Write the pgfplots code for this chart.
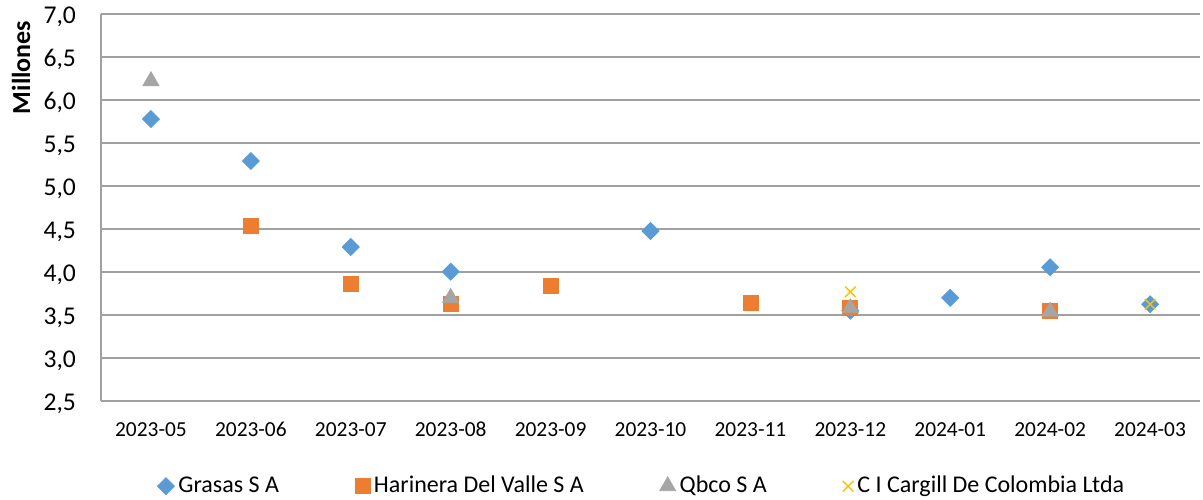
\documentclass[border=0pt]{standalone}
\usepackage{pgfplots}
\pgfplotsset{compat=1.18}
\usepackage{fontspec}
\setmainfont{Carlito}
\definecolor{cblue}{HTML}{5B9BD5}
\definecolor{corange}{HTML}{ED7D31}
\definecolor{cgray}{HTML}{A5A5A5}
\definecolor{cyellow}{HTML}{FFC000}
\definecolor{gridc}{HTML}{A0A0A0}
\begin{document}
\begin{tikzpicture}
\useasboundingbox (-50.5pt,-49pt) rectangle (551pt,200.5pt);
\begin{axis}[
  at={(0pt,0pt)}, anchor=south west,
  scale only axis,
  width=549.5pt, height=193.5pt,
  xmin=-0.5, xmax=10.5,
  ymin=2.5, ymax=7.0,
  xtick={0,...,10},
  xticklabels={2023-05,2023-06,2023-07,2023-08,2023-09,2023-10,2023-11,2023-12,2024-01,2024-02,2024-03},
  ytick={2.5,3,...,7},
  /pgf/number format/assume math mode=true,
  /pgf/number format/.cd, fixed, fixed zerofill, precision=1, use comma, /pgfplots/.cd,
  ymajorgrids, grid style={gridc, line width=0.6pt},
  axis x line*=bottom, axis y line*=left,
  axis line style={gridc, line width=0.6pt, -},
  major tick length=0pt,
  yticklabel style={font=\fontsize{12.8}{13}\selectfont, xshift=-9pt, text height=9pt, text depth=0pt},
  xticklabel style={font=\fontsize{10.7}{11}\selectfont, yshift=-6.5pt, text height=7.5pt, text depth=0pt},
  ylabel={\textbf{Millones}},
  ylabel style={font=\fontsize{13}{14}\selectfont, at={(axis description cs:-0.0728,0.862)}, anchor=center},
  legend columns=4,
  legend style={at={(0.493,-0.22)}, anchor=center, draw=none, fill=none,
    font=\fontsize{12}{13}\selectfont,
    /tikz/every even column/.append style={column sep=36pt}},
  legend cell align=left,
  clip=false,
]
\addplot[only marks, mark=square*, mark size=3pt, mark options={rotate=45, fill=cblue, draw=cblue}, color=cblue]
 coordinates {(0,5.779) (1,5.291) (2,4.291) (3,4.004) (5,4.477) (7,3.55) (8,3.70) (9,4.055) (10,3.625)};
\addlegendentry{Grasas S A}
\addplot[only marks, mark=square*, mark size=3.75pt, mark options={fill=corange, draw=corange}, color=corange]
 coordinates {(1,4.535) (2,3.860) (3,3.63) (4,3.837) (6,3.64) (7,3.585) (9,3.55)};
\addlegendentry{Harinera Del Valle S A}
\addplot[only marks, mark=triangle*, mark size=4.6pt, mark options={fill=cgray, draw=cgray}, color=cgray]
 coordinates {(0,6.221) (3,3.70) (7,3.58) (9,3.54)};
\addlegendentry{Qbco S A}
\addplot[only marks, mark=x, mark size=3.75pt, mark options={draw=cyellow, line width=0.7pt}, color=cyellow]
 coordinates {(7,3.77) (10,3.625)};
\addlegendentry{C I Cargill De Colombia Ltda}
\end{axis}
\end{tikzpicture}
\end{document}
